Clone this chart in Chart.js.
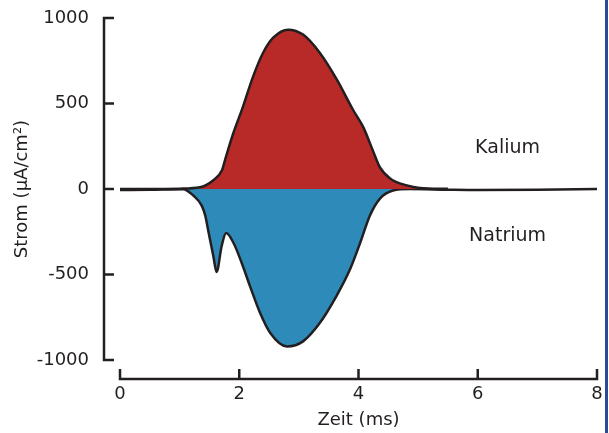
<!DOCTYPE html>
<html>
<head>
<meta charset="utf-8">
<script src="https://cdn.jsdelivr.net/npm/chart.js@4.4.1/dist/chart.umd.min.js"></script>
<style>
  html, body { margin: 0; padding: 0; background: #ffffff; }
  #wrap { position: relative; width: 609px; height: 433px; overflow: hidden; background: #ffffff; }
  #edge { position: absolute; left: 605px; top: 0; width: 3px; height: 433px; background: #2b4a9a; }
  canvas { position: absolute; left: 0; top: 0; }
</style>
</head>
<body>
<div id="wrap">
  <canvas id="c" width="609" height="433"></canvas>
  <div id="edge"></div>
</div>
<script>
// ---- data ----
const kaliumTime = [0, 0.5, 1.0, 1.34, 1.56, 1.71, 1.76, 1.9, 2.06, 2.23, 2.4, 2.57, 2.82, 3.07, 3.35, 3.64, 3.91, 4.08, 4.24, 4.36, 4.53, 4.81, 5.03, 5.5];
const kaliumCurrent = [0, 0, 2, 10, 50, 109, 168, 326, 479, 656, 797, 885, 932, 903, 797, 638, 462, 362, 226, 126, 62, 21, 6, 1];

const natriumTime = [0, 0.5, 1.06, 1.23, 1.37, 1.43, 1.49, 1.565, 1.62, 1.706, 1.78, 1.9, 2.04, 2.18, 2.35, 2.52, 2.8, 3.07, 3.35, 3.63, 3.86, 4.03, 4.19, 4.36, 4.58, 4.86, 5.5, 6, 7, 8];
const natriumCurrent = [-6, -4, -1, -38, -97, -156, -262, -392, -485, -332, -258, -313, -431, -568, -725, -842, -921, -891, -784, -626, -468, -313, -156, -56, -9, 0, -4, -6, -4, 0];

const xTicks = [0, 2, 4, 6, 8];
const yTicks = [-1000, -500, 0, 500, 1000];

const seriesNames = ['Kalium', 'Natrium'];
const labelPlaces = [[6.5, 240], [6.5, -275]]; // data coords of the series names

const xTitle = 'Zeit (ms)';
const yTitle = 'Strom (µA/cm²)';

// ---- styles ----
const INK = '#231f20';
const RED = '#b82a28';
const BLUE = '#2e8ab8';

Chart.defaults.font.family = "'DejaVu Sans', sans-serif";
Chart.defaults.font.size = 18;
Chart.defaults.color = INK;

function pts(xs, ys) { return xs.map((x, i) => ({x: x, y: ys[i]})); }

const axesPlugin = {
  id: 'detachedAxes',
  afterDraw(chart) {
    const ctx = chart.ctx;
    const xs = chart.scales.x, ys = chart.scales.y;
    const ca = chart.chartArea;
    const ax = ca.left - 16;      // y axis line
    const ay = ca.bottom + 19;    // x axis line
    const tl = 10;
    ctx.save();
    ctx.strokeStyle = INK;
    ctx.lineWidth = 2.5;
    ctx.lineJoin = 'miter';
    ctx.lineCap = 'butt';
    // y axis
    const yTop = ys.getPixelForValue(yTicks[yTicks.length - 1]);
    const yBot = ys.getPixelForValue(yTicks[0]);
    ctx.beginPath();
    ctx.moveTo(ax + tl, yTop); ctx.lineTo(ax, yTop); ctx.lineTo(ax, yBot); ctx.lineTo(ax + tl, yBot);
    ctx.stroke();
    yTicks.slice(1, -1).forEach(v => {
      const p = ys.getPixelForValue(v);
      ctx.beginPath(); ctx.moveTo(ax, p); ctx.lineTo(ax + tl, p); ctx.stroke();
    });
    // x axis
    const xL = xs.getPixelForValue(xTicks[0]);
    const xR = xs.getPixelForValue(xTicks[xTicks.length - 1]);
    ctx.beginPath();
    ctx.moveTo(xL, ay - tl); ctx.lineTo(xL, ay); ctx.lineTo(xR, ay); ctx.lineTo(xR, ay - tl);
    ctx.stroke();
    xTicks.slice(1, -1).forEach(v => {
      const p = xs.getPixelForValue(v);
      ctx.beginPath(); ctx.moveTo(p, ay); ctx.lineTo(p, ay - tl); ctx.stroke();
    });
    // series names
    ctx.fillStyle = INK;
    ctx.font = "19px 'DejaVu Sans', sans-serif";
    ctx.textAlign = 'center';
    ctx.textBaseline = 'middle';
    seriesNames.forEach((n, i) => {
      ctx.fillText(n, xs.getPixelForValue(labelPlaces[i][0]), ys.getPixelForValue(labelPlaces[i][1]));
    });
    ctx.restore();
  }
};

new Chart(document.getElementById('c'), {
  type: 'line',
  data: {
    datasets: [
      {
        label: seriesNames[0],
        data: pts(kaliumTime, kaliumCurrent),
        borderColor: INK,
        borderWidth: 2.5,
        backgroundColor: RED,
        fill: 'origin',
        pointRadius: 0,
        cubicInterpolationMode: 'monotone'
      },
      {
        label: seriesNames[1],
        data: pts(natriumTime, natriumCurrent),
        borderColor: INK,
        borderWidth: 2.5,
        backgroundColor: BLUE,
        fill: 'origin',
        pointRadius: 0,
        cubicInterpolationMode: 'monotone'
      }
    ]
  },
  options: {
    responsive: false,
    animation: false,
    devicePixelRatio: 1,
    layout: { autoPadding: false, padding: { top: 18, right: 12, left: 0, bottom: 0 } },
    plugins: { legend: { display: false }, tooltip: { enabled: false } },
    scales: {
      x: {
        type: 'linear',
        min: xTicks[0], max: xTicks[xTicks.length - 1],
        afterBuildTicks: s => { s.ticks = xTicks.map(v => ({value: v})); },
        afterFit: s => { s.height = 73; s.paddingLeft = 0; s.paddingRight = 0; },
        grid: { display: false, drawTicks: false },
        border: { display: false },
        ticks: { padding: 24, callback: v => String(v), maxRotation: 0, autoSkip: false },
        title: { display: true, text: xTitle, padding: { top: 0, bottom: 2 } }
      },
      y: {
        type: 'linear',
        min: yTicks[0], max: yTicks[yTicks.length - 1],
        afterBuildTicks: s => { s.ticks = yTicks.map(v => ({value: v})); },
        afterFit: s => { s.width = 120; s.paddingTop = 0; s.paddingBottom = 0; },
        grid: { display: false, drawTicks: false },
        border: { display: false },
        ticks: { padding: 31, callback: v => String(v), autoSkip: false },
        title: { display: true, text: yTitle, padding: { top: 12, bottom: 0 } }
      }
    }
  },
  plugins: [axesPlugin]
});
</script>
</body>
</html>
